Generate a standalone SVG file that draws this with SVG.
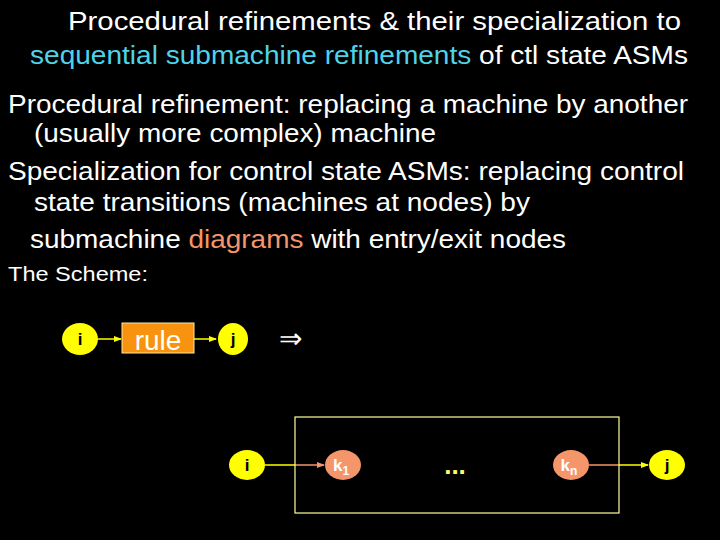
<svg xmlns="http://www.w3.org/2000/svg" width="720" height="540" viewBox="0 0 720 540">
<defs>
<style>
text{font-family:"Liberation Sans",Arial,sans-serif;fill:#fff}
.t{font-size:26px}
.b{font-size:26px}
.s{fill:#f4956a}
.lbl{font-weight:bold;font-size:17px;fill:#fff;text-anchor:middle}
.ly{stroke:#ffff00;stroke-width:1.5}
.ls{stroke:#f4956a;stroke-width:1.5}
</style>
<marker id="ay" markerWidth="8" markerHeight="8" refX="7" refY="4" orient="auto" markerUnits="userSpaceOnUse"><path d="M0,1 L8,4 L0,7z" fill="#ffff00"/></marker>
<marker id="as" markerWidth="8" markerHeight="8" refX="7" refY="4" orient="auto" markerUnits="userSpaceOnUse"><path d="M0,1 L8,4 L0,7z" fill="#f4956a"/></marker>
</defs>
<rect width="720" height="540" fill="#000"/>
<text class="t" x="68" y="30" textLength="613" lengthAdjust="spacingAndGlyphs">Procedural refinements &amp; their specialization to</text>
<text class="t" x="30" y="64" textLength="658" lengthAdjust="spacingAndGlyphs"><tspan fill="#4fd3e8">sequential submachine refinements</tspan> of ctl state ASMs</text>
<text class="b" x="8" y="113" textLength="680" lengthAdjust="spacingAndGlyphs">Procedural refinement: replacing a machine by another</text>
<text class="b" x="34" y="142" textLength="402" lengthAdjust="spacingAndGlyphs">(usually more complex) machine</text>
<text class="b" x="8" y="180" textLength="676" lengthAdjust="spacingAndGlyphs">Specialization for control state ASMs: replacing control</text>
<text class="b" x="34" y="211" textLength="496" lengthAdjust="spacingAndGlyphs">state transitions (machines at nodes) by</text>
<text class="b" x="30" y="248" textLength="536" lengthAdjust="spacingAndGlyphs">submachine <tspan class="s">diagrams</tspan> with entry/exit nodes</text>
<text x="8" y="281" font-size="21" textLength="140" lengthAdjust="spacingAndGlyphs">The Scheme:</text>
<g id="connectors" fill="none">
<line class="ly" x1="98" y1="339" x2="121" y2="339" marker-end="url(#ay)"/>
<line class="ly" x1="194" y1="339" x2="216" y2="339" marker-end="url(#ay)"/>
<line class="ly" x1="265" y1="465" x2="295" y2="465"/>
<line class="ls" x1="295" y1="465" x2="324" y2="465" marker-end="url(#as)"/>
<line class="ls" x1="589" y1="465" x2="619" y2="465"/>
<line class="ly" x1="619" y1="465" x2="648" y2="465" marker-end="url(#ay)"/>
</g>
<g id="i1"><ellipse cx="80" cy="339" rx="18" ry="16" fill="#ffff00"/><text class="lbl" x="80" y="345" style="fill:#000">i</text></g>
<g id="rule"><rect x="122" y="323" width="72" height="30" fill="#f7930f" stroke="#ffe9a0" stroke-width="1"/><text x="158" y="350" font-size="28" text-anchor="middle">rule</text></g>
<g id="j1"><ellipse cx="233" cy="339" rx="15" ry="16" fill="#ffff00"/><text class="lbl" x="233" y="345" style="fill:#000">j</text></g>
<text x="290" y="348" font-size="28" text-anchor="middle">⇒</text>
<g id="sub"><rect x="295" y="417" width="324" height="96" fill="none" stroke="#ffff99" stroke-width="1.2"/></g>
<g id="i2"><ellipse cx="247" cy="465" rx="18" ry="15" fill="#ffff00"/><text class="lbl" x="247" y="471" style="fill:#000">i</text></g>
<g id="k1"><ellipse cx="343" cy="465" rx="18" ry="15" fill="#f4956a"/><text class="lbl" x="341" y="471">k<tspan font-size="12" dy="4">1</tspan></text></g>
<text x="455" y="474" font-size="26" font-weight="bold" text-anchor="middle" style="fill:#ffff66">...</text>
<g id="kn"><ellipse cx="571" cy="465" rx="18" ry="15" fill="#f4956a"/><text class="lbl" x="569" y="471">k<tspan font-size="12" dy="4">n</tspan></text></g>
<g id="j2"><ellipse cx="667" cy="465" rx="18" ry="15" fill="#ffff00"/><text class="lbl" x="667" y="471" style="fill:#000">j</text></g>
</svg>
